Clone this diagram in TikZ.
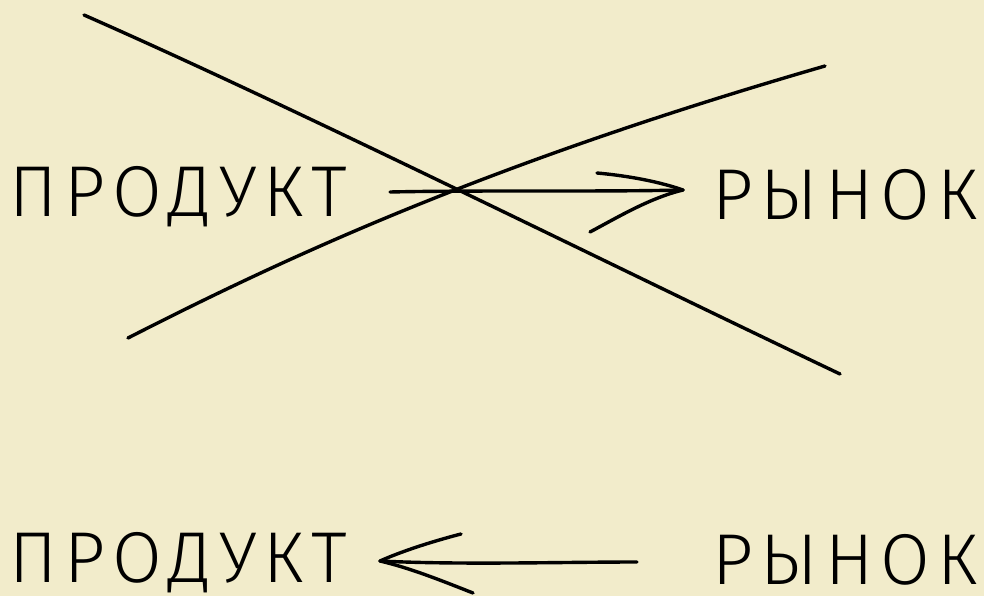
\documentclass[tikz,border=0pt]{standalone}
\usepackage{fontspec}
\setmainfont{Fira Sans Light}[LetterSpace=10]
\definecolor{paper}{RGB}{242,236,203}
\tikzset{
  hand/.style={draw=black, line width=3.4pt, line cap=round, line join=round},
  word/.style={inner sep=0pt, anchor=center, text height=50pt, text depth=0pt,
               font=\fontsize{72}{72}\selectfont}
}
\begin{document}
\begin{tikzpicture}[x=1pt,y=-1pt]
\fill[paper] (0,0) rectangle (984,596);
\useasboundingbox (0,0) rectangle (984,596);
% top row
\node[word] (p1) at (178,191) {ПРОДУКТ};
\node[word] (r1) at (845,194) {РЫНОК};
\coordinate (a1s) at (390,192);
\coordinate (a1t) at (683,190);
\coordinate (a1u) at (597,173);
\coordinate (a1l) at (590,232);
\draw[hand] (a1s) .. controls (480,190) and (600,192) .. (a1t);
\draw[hand] (a1u) .. controls (630,176) and (660,182) .. (a1t);
\draw[hand] (a1l) .. controls (620,216) and (650,198) .. (a1t);
% cross
\coordinate (c1a) at (84,15);
\coordinate (c1b) at (840,374);
\coordinate (c2a) at (128,338);
\coordinate (c2b) at (825,66);
\draw[hand] (c1a) .. controls (300,110) and (600,260) .. (c1b);
\draw[hand] (c2a) .. controls (300,250) and (500,160) .. (c2b);
% bottom row
\node[word] (p2) at (178,557) {ПРОДУКТ};
\node[word] (r2) at (845,559) {РЫНОК};
\coordinate (a2s) at (637,562);
\coordinate (a2t) at (380,561);
\coordinate (a2u) at (461,534);
\coordinate (a2l) at (473,593);
\draw[hand] (a2s) .. controls (560,562) and (460,565) .. (a2t);
\draw[hand] (a2u) .. controls (430,542) and (400,552) .. (a2t);
\draw[hand] (a2l) .. controls (440,580) and (410,568) .. (a2t);
\end{tikzpicture}
\end{document}
